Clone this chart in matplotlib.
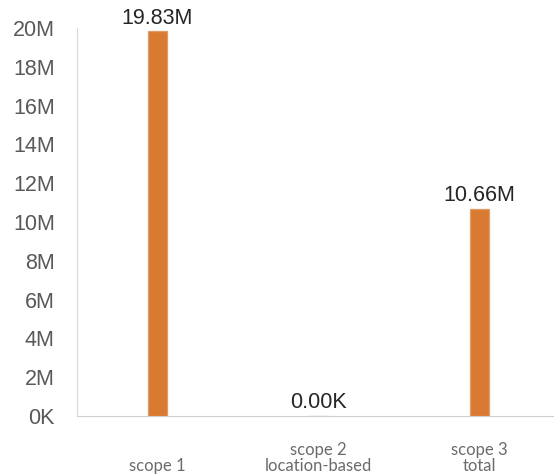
import matplotlib.pyplot as plt
from matplotlib.ticker import FuncFormatter
from matplotlib.transforms import blended_transform_factory

categories = ['scope 1', 'scope 2\nlocation-based', 'scope 3\ntotal']
values = [19830000, 0, 10660000]
y_ticks = [0, 2e6, 4e6, 6e6, 8e6, 10e6, 12e6, 14e6, 16e6, 18e6, 20e6]


def fmt(v, pos=None):
    if abs(v) >= 1e6:
        return '%gM' % round(v / 1e6, 2) if pos is not None else '%.2fM' % (v / 1e6)
    return '%gK' % round(v / 1e3, 2) if pos is not None else '%.2fK' % (v / 1e3)


fig = plt.figure(figsize=(5.54, 4.76), dpi=100)
ax = fig.add_axes([77 / 554, 60 / 476, 477 / 554, 388 / 476])

xs = range(len(categories))
bars = ax.bar(xs, values, width=0.124, color='#D97A33', edgecolor='#E39A66',
              linewidth=0.9, zorder=3)
ax.bar_label(bars, labels=[fmt(v) for v in values], padding=2,
             fontsize=15.5, color='#262626', family='Liberation Sans')

ax.set_xlim(-0.5, -0.5 + 477 / 161)
ax.set_ylim(0, 20e6)
ax.set_yticks(y_ticks)
ax.yaxis.set_major_formatter(FuncFormatter(fmt))
ax.tick_params(axis='y', length=0, pad=16, labelsize=15.5, labelcolor='#595959')
for t in ax.get_yticklabels():
    t.set_family('Liberation Sans')
ax.set_xticks([])

for s in ['top', 'right']:
    ax.spines[s].set_visible(False)
ax.spines['left'].set_color('#d9d9d9')
ax.spines['bottom'].set_color('#d0d0d0')

# category labels sit at the bottom, bottom-aligned
tr = blended_transform_factory(ax.transData, fig.transFigure)
for i, lab in zip(xs, categories):
    ax.text(i, 2 / 476, lab, transform=tr, ha='center', va='bottom',
            fontsize=12, color='#6b6b6b', family='Lato', linespacing=1.0)

fig.savefig('out.png', dpi=100)
